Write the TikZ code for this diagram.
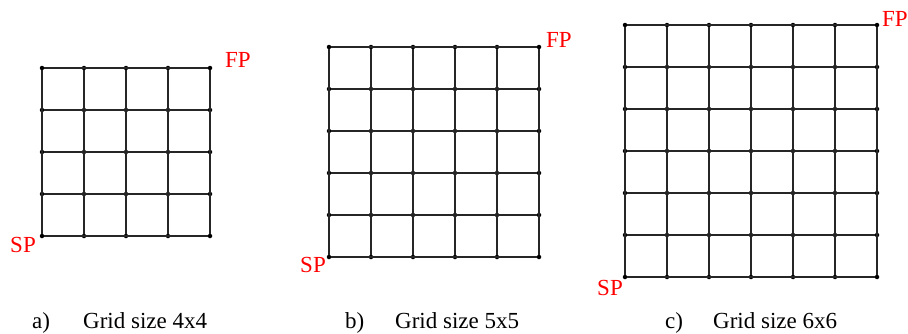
\documentclass[tikz,border=0pt]{standalone}
\usepackage{fontspec}
\setmainfont{Liberation Serif}
\usetikzlibrary{positioning}

\begin{document}
\begin{tikzpicture}[x=1pt, y=1pt,
  every node/.style={font=\rmfamily\fontsize{23}{27}\selectfont},
  gridline/.style={draw=black!85, line width=1.1pt},
  gridpt/.style={circle, fill=black, inner sep=0pt, minimum size=4.5pt},
  tag/.style={text=red, inner sep=0pt},
  caption/.style={anchor=base west, inner sep=0pt},
]
  \useasboundingbox (0,0) rectangle (908,333);

  % grids: name / origin x / origin y / size
  \foreach \g/\ox/\oy/\n in {a/42/97/4, b/329/76/5, c/625/56/6} {
    \foreach \i in {0,...,\n}
      \foreach \j in {0,...,\n}
        \node[gridpt] (\g-\i-\j) at (\ox+\i*42, \oy+\j*42) {};
    \foreach \i in {0,...,\n} {
      \draw[gridline] (\g-\i-0) -- (\g-\i-\n);
      \draw[gridline] (\g-0-\i) -- (\g-\n-\i);
    }
  }

  % start and finish points
  \node[tag, anchor=north east] (sp-a) at (36,96) {SP};
  \node[tag, anchor=south west] (fp-a) at (225,265) {FP};
  \node[tag, anchor=north east] (sp-b) at (326,76) {SP};
  \node[tag, anchor=south west] (fp-b) at (546,285) {FP};
  \node[tag, anchor=north east] (sp-c) at (623,53) {SP};
  \node[tag, anchor=south west] (fp-c) at (882,306) {FP};

  % captions
  \foreach \g/\lx/\tx/\n in {a/32/83/4, b/345/395/5, c/665/713/6} {
    \node[caption] (lab-\g) at (\lx,5) {\g)};
    \node[caption] (txt-\g) at (\tx,5) {Grid size \n x\n};
  }
\end{tikzpicture}
\end{document}
